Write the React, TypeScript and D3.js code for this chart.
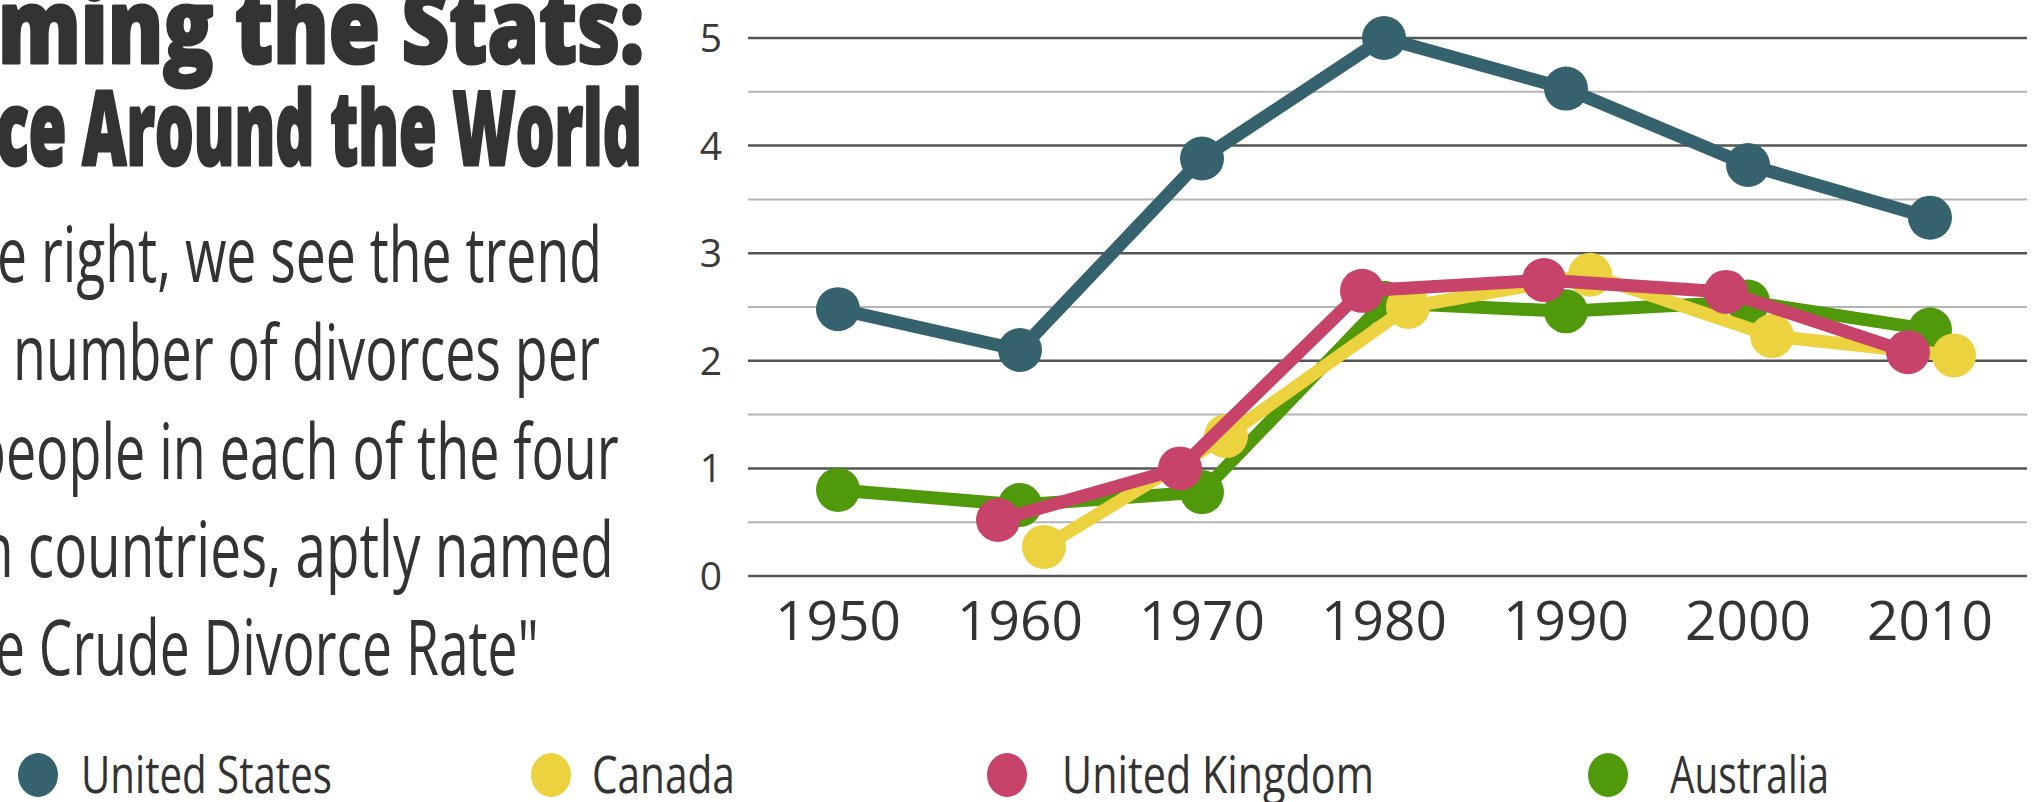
import React, { useEffect, useRef } from "react";
import * as d3 from "d3";

// data
const years = [1950, 1960, 1970, 1980, 1990, 2000, 2010];
const laterYears = [1960, 1970, 1980, 1990, 2000, 2010];
const usValues = [2.48, 2.1, 3.88, 5.0, 4.53, 3.82, 3.33];
const canadaValues = [0.27, 1.3, 2.5, 2.8, 2.23, 2.05];
const ukValues = [0.52, 1.0, 2.65, 2.75, 2.64, 2.08];
const australiaValues = [0.8, 0.66, 0.78, 2.54, 2.46, 2.55, 2.29];
const yTicks = [0, 1, 2, 3, 4, 5];
const countries = ["United States", "Canada", "United Kingdom", "Australia"];

const titleLines = ["ming the Stats:", "ce Around the World"];
const bodyLines = [
  "e right, we see the trend",
  "number of divorces per",
  "people in each of the four",
  "n countries, aptly named",
  "e Crude Divorce Rate\"",
];

const W = 2039;
const H = 802;
const FONT = "'Open Sans', 'DejaVu Sans', sans-serif";
const INK = "#333333";

// squeeze a text horizontally to a given width (condensed look)
const squeeze = (sel: any, layout: { x: number; y: number; len: number }[]) => {
  sel.each(function (this: SVGTextElement, d: string, i: number) {
    const natural = this.getComputedTextLength() || 1;
    const l = layout[i];
    d3.select(this).attr(
      "transform",
      `translate(${l.x},${l.y}) scale(${l.len / natural},1)`
    );
  });
};

function App() {
  const ref = useRef<SVGSVGElement>(null);

  useEffect(() => {
    drawChart();
  });

  const drawChart = () => {
    const svg = d3.select(ref.current);
    svg.selectAll("*").remove();

    svg.append("rect").attr("width", W).attr("height", H).attr("fill", "#fff");

    const series = [
      { name: countries[0], years: years, values: usValues, color: "#36626e", dodge: 0 },
      { name: countries[3], years: years, values: australiaValues, color: "#4f990b", dodge: 0 },
      { name: countries[1], years: laterYears, values: canadaValues, color: "#ecd23f", dodge: 24 },
      { name: countries[2], years: laterYears, values: ukValues, color: "#c8436a", dodge: -22 },
    ];

    const x = d3.scaleLinear().domain([1950, 2010]).range([838, 1930]);
    const y = d3.scaleLinear().domain([0, 5]).range([576, 38]);

    // grid: full units dark, half units light
    const grid = svg.append("g");
    const halfTicks = d3.range(0.5, 5, 1);
    grid
      .selectAll("line.minor")
      .data(halfTicks)
      .enter()
      .append("line")
      .attr("class", "minor")
      .attr("x1", 748)
      .attr("x2", 2027)
      .attr("y1", d => y(d))
      .attr("y2", d => y(d))
      .attr("stroke", "#b4b4b4")
      .attr("stroke-width", 2);
    grid
      .selectAll("line.major")
      .data(yTicks)
      .enter()
      .append("line")
      .attr("class", "major")
      .attr("x1", 748)
      .attr("x2", 2027)
      .attr("y1", d => y(d))
      .attr("y2", d => y(d))
      .attr("stroke", "#555")
      .attr("stroke-width", 2.5);

    svg
      .append("g")
      .selectAll("text")
      .data(yTicks)
      .enter()
      .append("text")
      .attr("x", 711)
      .attr("y", d => y(d))
      .attr("dy", "0.36em")
      .attr("text-anchor", "middle")
      .style("font-family", FONT)
      .style("font-size", "39px")
      .attr("fill", "#3a3a3a")
      .text(d => d);

    svg
      .append("g")
      .selectAll("text")
      .data(years)
      .enter()
      .append("text")
      .attr("x", d => x(d))
      .attr("y", 640)
      .attr("text-anchor", "middle")
      .style("font-family", FONT)
      .style("font-size", "55px")
      .attr("fill", INK)
      .text(d => d);

    const line = d3
      .line<[number, number]>()
      .x(d => d[0])
      .y(d => d[1]);

    series.forEach(s => {
      const pts: [number, number][] = s.values.map((v, i) => [x(s.years[i]) + s.dodge, y(v)]);
      const g = svg.append("g");
      g.append("path")
        .attr("d", line(pts))
        .attr("fill", "none")
        .attr("stroke", s.color)
        .attr("stroke-width", 13)
        .attr("stroke-linejoin", "round");
      g.selectAll("circle")
        .data(pts)
        .enter()
        .append("circle")
        .attr("cx", d => d[0])
        .attr("cy", d => d[1])
        .attr("r", 22)
        .attr("fill", s.color);
    });

    // left text block, clipped by the page edge
    const titleLayout = [
      { x: -2, y: 63, len: 646 },
      { x: -4, y: 165, len: 646 },
    ];
    const titles = svg
      .append("g")
      .selectAll("text")
      .data(titleLines)
      .enter()
      .append("text")
      .style("font-family", FONT)
      .style("font-weight", 800)
      .style("font-size", "102px")
      .attr("fill", INK)
      .attr("stroke", INK)
      .attr("stroke-width", 3)
      .attr("stroke-linejoin", "round")
      .text(d => d);
    squeeze(titles, titleLayout);

    const bodyLayout = [
      { x: -3, len: 605 },
      { x: 13, len: 587 },
      { x: -27, len: 646 },
      { x: -20, len: 634 },
      { x: -5, len: 544 },
    ].map((l, i) => ({ ...l, y: 282 + i * 98.3 }));
    const body = svg
      .append("g")
      .selectAll("text")
      .data(bodyLines)
      .enter()
      .append("text")
      .style("font-family", FONT)
      .style("font-size", "77px")
      .attr("fill", INK)
      .text(d => d);
    squeeze(body, bodyLayout);

    // legend
    const legendColors = ["#36626e", "#ecd23f", "#c8436a", "#4f990b"];
    const legendLayout = [
      { cx: 38, x: 81, len: 251 },
      { cx: 551, x: 592, len: 143 },
      { cx: 1007, x: 1062, len: 312 },
      { cx: 1608, x: 1670, len: 159 },
    ].map(l => ({ ...l, y: 793 }));
    const legend = svg
      .append("g")
      .selectAll("g")
      .data(countries)
      .enter()
      .append("g");
    legend
      .append("ellipse")
      .attr("cx", (d, i) => legendLayout[i].cx)
      .attr("cy", 775)
      .attr("rx", 20)
      .attr("ry", 22)
      .attr("fill", (d, i) => legendColors[i]);
    const legendText = legend
      .append("text")
      .style("font-family", FONT)
      .style("font-size", "52px")
      .attr("fill", INK)
      .text(d => d);
    squeeze(legendText, legendLayout);
  };

  return (
    <svg
      ref={ref}
      width={W}
      height={H}
      style={{ position: "absolute", left: 0, top: 0, display: "block" }}
    />
  );
}

export default App;
